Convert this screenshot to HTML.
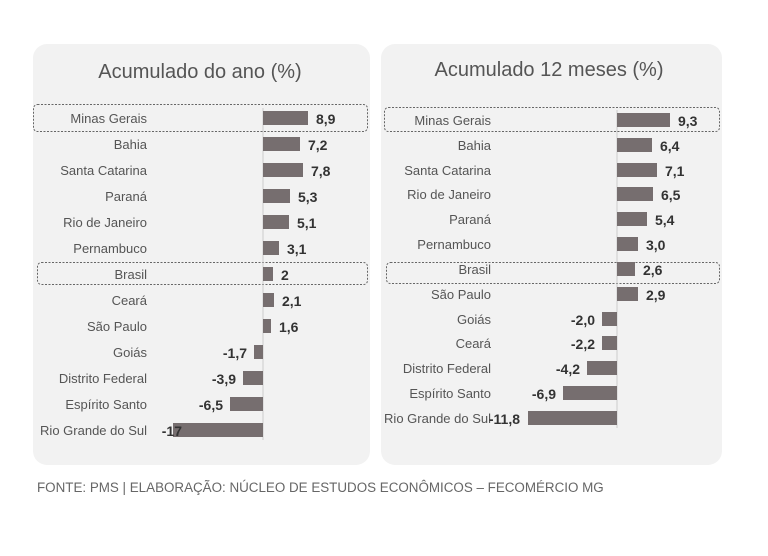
<!DOCTYPE html>
<html><head><meta charset="utf-8"><style>
body{margin:0;background:#fff;width:768px;height:551px;overflow:hidden;font-family:"Liberation Sans",sans-serif;}
</style></head><body>
<svg width="768" height="551" xmlns="http://www.w3.org/2000/svg" font-family="Liberation Sans, sans-serif">
<rect x="33" y="44" width="337" height="421" rx="14" fill="#f2f2f2"/>
<rect x="381" y="44" width="341" height="421" rx="14" fill="#f2f2f2"/>
<text x="200" y="78" font-size="20" fill="#555" text-anchor="middle">Acumulado do ano (%)</text>
<text x="549" y="76" font-size="20" fill="#555" text-anchor="middle">Acumulado 12 meses (%)</text>
<g fill="none" stroke="#666" stroke-dasharray="2,1.5" stroke-width="1">
<rect x="33.5" y="104.5" width="334" height="27" rx="4"/>
<rect x="37.5" y="262.5" width="330" height="22" rx="4"/>
<rect x="384.5" y="107.5" width="335" height="24" rx="4"/>
<rect x="386.5" y="262.5" width="333" height="21" rx="4"/>
</g>
<line x1="263" y1="108" x2="263" y2="440" stroke="#ccc"/>
<line x1="617" y1="110" x2="617" y2="428" stroke="#ccc"/>
<g font-size="13" fill="#555" text-anchor="end">
<text x="147" y="123">Minas Gerais</text><text x="147" y="149">Bahia</text><text x="147" y="175">Santa Catarina</text><text x="147" y="201">Paraná</text><text x="147" y="227">Rio de Janeiro</text><text x="147" y="253">Pernambuco</text><text x="147" y="279">Brasil</text><text x="147" y="305">Ceará</text><text x="147" y="331">São Paulo</text><text x="147" y="357">Goiás</text><text x="147" y="383">Distrito Federal</text><text x="147" y="409">Espírito Santo</text><text x="147" y="435">Rio Grande do Sul</text>
<text x="491" y="125">Minas Gerais</text><text x="491" y="150">Bahia</text><text x="491" y="175">Santa Catarina</text><text x="491" y="199">Rio de Janeiro</text><text x="491" y="224">Paraná</text><text x="491" y="249">Pernambuco</text><text x="491" y="274">Brasil</text><text x="491" y="299">São Paulo</text><text x="491" y="324">Goiás</text><text x="491" y="348">Ceará</text><text x="491" y="373">Distrito Federal</text><text x="491" y="398">Espírito Santo</text><text x="491" y="423">Rio Grande do Sul</text>
</g>
<g fill="#766e6f">
<rect x="263" y="111" width="45" height="14"/><rect x="263" y="137" width="37" height="14"/><rect x="263" y="163" width="40" height="14"/><rect x="263" y="189" width="27" height="14"/><rect x="263" y="215" width="26" height="14"/><rect x="263" y="241" width="16" height="14"/><rect x="263" y="267" width="10" height="14"/><rect x="263" y="293" width="11" height="14"/><rect x="263" y="319" width="8" height="14"/><rect x="254" y="345" width="9" height="14"/><rect x="243" y="371" width="20" height="14"/><rect x="230" y="397" width="33" height="14"/><rect x="173" y="423" width="90" height="14"/>
<rect x="617" y="113" width="53" height="14"/><rect x="617" y="138" width="35" height="14"/><rect x="617" y="163" width="40" height="14"/><rect x="617" y="187" width="36" height="14"/><rect x="617" y="212" width="30" height="14"/><rect x="617" y="237" width="21" height="14"/><rect x="617" y="262" width="18" height="14"/><rect x="617" y="287" width="21" height="14"/><rect x="602" y="312" width="15" height="14"/><rect x="602" y="336" width="15" height="14"/><rect x="587" y="361" width="30" height="14"/><rect x="563" y="386" width="54" height="14"/><rect x="528" y="411" width="89" height="14"/>
</g>
<g font-size="14" font-weight="bold" fill="#333">
<text x="316" y="124">8,9</text><text x="308" y="150">7,2</text><text x="311" y="176">7,8</text><text x="298" y="202">5,3</text><text x="297" y="228">5,1</text><text x="287" y="254">3,1</text><text x="281" y="280">2</text><text x="282" y="306">2,1</text><text x="279" y="332">1,6</text>
<text x="678" y="126">9,3</text><text x="660" y="151">6,4</text><text x="665" y="176">7,1</text><text x="661" y="200">6,5</text><text x="655" y="225">5,4</text><text x="646" y="250">3,0</text><text x="643" y="275">2,6</text><text x="646" y="300">2,9</text>
</g>
<g font-size="14" font-weight="bold" fill="#333" text-anchor="end">
<text x="247" y="358">-1,7</text><text x="236" y="384">-3,9</text><text x="223" y="410">-6,5</text><text x="182" y="436">-17</text>
<text x="595" y="325">-2,0</text><text x="595" y="349">-2,2</text><text x="580" y="374">-4,2</text><text x="556" y="399">-6,9</text><text x="520" y="424">-11,8</text>
</g>
<text x="37" y="492" font-size="13.4" fill="#666">FONTE: PMS | ELABORAÇÃO: NÚCLEO DE ESTUDOS ECONÔMICOS – FECOMÉRCIO MG</text>
</svg>
</body></html>
